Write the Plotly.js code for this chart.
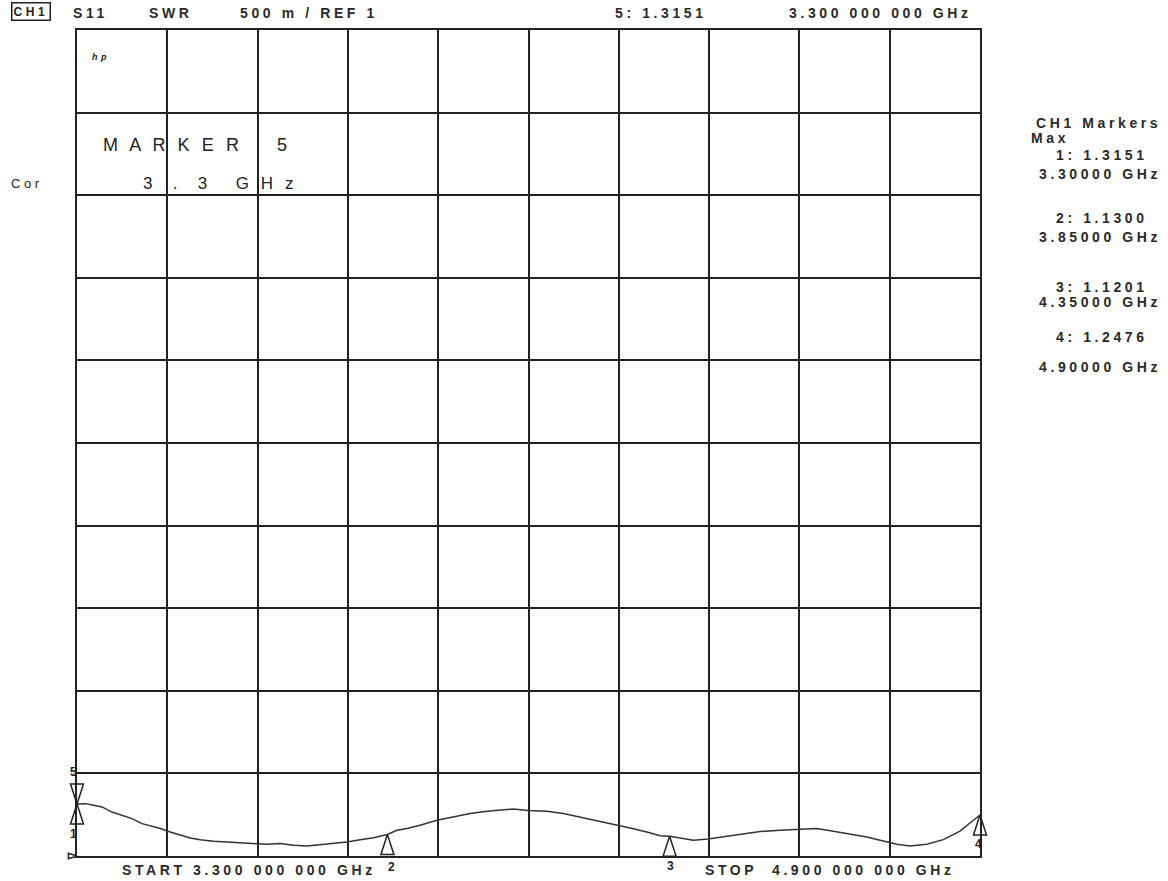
<!DOCTYPE html>
<html>
<head>
<meta charset="utf-8">
<script src="https://cdn.plot.ly/plotly-3.0.1.min.js"></script>
<style>
  html, body { margin: 0; padding: 0; background: #fff; }
  #chart { width: 1168px; height: 881px; }
  text.annotation-text { letter-spacing: 3.6px; }
</style>
</head>
<body>
<div id="chart"></div>
<script>
// ---------------- DATA ----------------
const xStart = 3.3;          // GHz
const xStop = 4.9;           // GHz
const refLevel = 1;          // SWR reference
const scaleDiv = 0.5;        // 500 m / div
const nDiv = 10;

const freqGHz = [
  3.300, 3.3147, 3.3294, 3.3443, 3.3620, 3.3797, 3.3974, 3.4151, 3.4328, 3.4475,
  3.4652, 3.4830, 3.5007, 3.5184, 3.5420, 3.5657, 3.5893, 3.6128, 3.6365, 3.6601,
  3.6837, 3.7074, 3.7310, 3.7545, 3.7782, 3.8018, 3.8254, 3.850, 3.8668, 3.8845,
  3.9081, 3.9377, 3.9671, 3.9967, 4.0262, 4.0556, 4.0734, 4.0994, 4.1325, 4.1619,
  4.1915, 4.2211, 4.2505, 4.2801, 4.3096, 4.3332, 4.350, 4.3686, 4.3922, 4.4182,
  4.4453, 4.4749, 4.5103, 4.5457, 4.5811, 4.6108, 4.6402, 4.6697, 4.6993, 4.7287,
  4.7525, 4.7760, 4.8056, 4.8350, 4.8645, 4.8822, 4.900
];
const swr = [
  1.3151, 1.317, 1.307, 1.297, 1.266, 1.246, 1.226, 1.196, 1.180, 1.166,
  1.145, 1.125, 1.109, 1.099, 1.089, 1.085, 1.079, 1.075, 1.071, 1.075,
  1.065, 1.061, 1.069, 1.075, 1.085, 1.099, 1.111, 1.130, 1.156, 1.166,
  1.186, 1.216, 1.236, 1.257, 1.271, 1.281, 1.285, 1.276, 1.271, 1.257,
  1.236, 1.216, 1.192, 1.170, 1.145, 1.123, 1.1201, 1.107, 1.095, 1.103,
  1.115, 1.131, 1.148, 1.156, 1.163, 1.166, 1.150, 1.131, 1.115, 1.091,
  1.071, 1.061, 1.071, 1.099, 1.151, 1.200, 1.2476
];

const mkrNum  = ['1', '2', '3', '4', '5'];
const mkrFreq = [3.30, 3.85, 4.35, 4.90, 3.30];
const mkrSwr  = [1.3151, 1.1300, 1.1201, 1.2476, 1.3151];
const activeMkr = 4; // index of marker 5

// ---------------- STYLE ----------------
const INK = '#222';
const FONT = 'Liberation Sans, Arial, sans-serif';
const mkrAngle = [0, 0, 0, 0, 180];
const labelShift = [[-4, -30], [4, -32], [0, -30], [-2, -29], [-4, 32]];

const M = { l: 77, r: 188, t: 30, b: 25 };
const W = 1168, H = 881;
const PW = W - M.l - M.r, PH = H - M.t - M.b;
function px(x) { return (x - M.l) / PW; }
function py(y) { return (H - M.b - y) / PH; }

function grp(f) { // 3.300000000 -> 3.300 000 000
  const s = f.toFixed(9);
  const [a, b] = s.split('.');
  return a + '.' + b.slice(0, 3) + ' ' + b.slice(3, 6) + ' ' + b.slice(6, 9);
}

const BOLD = { family: FONT, size: 14, color: '#2a2a2a', weight: 'bold' };
const ann = [];
function T(text, x, y, opts) {
  opts = opts || {};
  ann.push(Object.assign({
    xref: 'paper', yref: 'paper', x: px(x), y: py(y), text: text,
    showarrow: false, xanchor: 'left', yanchor: 'middle',
    font: BOLD
  }, opts));
}

// Marker labels (data anchored)
mkrNum.forEach((n, i) => {
  ann.push({
    xref: 'x', yref: 'y', x: mkrFreq[i], y: mkrSwr[i], text: n,
    showarrow: false, xanchor: 'center', yanchor: 'middle',
    xshift: labelShift[i][0] + 2, yshift: labelShift[i][1],
    font: { family: FONT, size: 12, color: INK, weight: 'bold' }
  });
});

// Header
T('CH1', 31, 12, { xanchor: 'center', font: { family: FONT, size: 12, color: INK, weight: 'bold' },
  bordercolor: INK, borderwidth: 1.5, borderpad: 1 });
T('S11', 71, 13);
T('SWR', 147, 13);
T((scaleDiv * 1000).toFixed(0) + ' m / REF ' + refLevel, 238, 13);
T(mkrNum[activeMkr] + ': ' + mkrSwr[activeMkr].toFixed(4), 613, 13);
T(grp(mkrFreq[activeMkr]) + ' GHz', 787, 13);

// Inside plot
T('hp', 90, 57, { font: { family: FONT, size: 9, color: INK, weight: 'bold', style: 'italic' } });
T('M A R K E R    ' + mkrNum[activeMkr], 101, 145, { font: { family: FONT, size: 18, color: INK } });
T('3  .  3   G H z', 141, 183, { font: { family: FONT, size: 17, color: INK } });
T('Cor', 9, 184, { font: { family: FONT, size: 13, color: INK } });

// Bottom
T('START ' + grp(xStart) + ' GHz', 120, 870);
T('STOP  ' + grp(xStop) + ' GHz', 703, 870);

// Right marker table
T('CH1 Markers', 1098, 123, { xanchor: 'center' });
T('Max', 1029, 138);
const rowY = [[155, 174], [218, 237], [287, 302], [337, 367]];
for (let i = 0; i < 4; i++) {
  T(mkrNum[i] + ': ' + mkrSwr[i].toFixed(4), 1102, rowY[i][0], { xanchor: 'center' });
  T(mkrFreq[i].toFixed(5) + ' GHz', 1100, rowY[i][1], { xanchor: 'center' });
}

const traces = [
  {
    x: freqGHz, y: swr, type: 'scatter', mode: 'lines',
    line: { color: '#333', width: 1.5 }, hoverinfo: 'skip'
  },
  {
    x: mkrFreq, y: mkrSwr, type: 'scatter', mode: 'markers', cliponaxis: false,
    marker: { symbol: 'arrow-open', size: 21, angle: mkrAngle,
              color: INK, line: { color: INK, width: 1.5 } },
    hoverinfo: 'skip'
  },
  {
    x: [xStart], y: [refLevel], type: 'scatter', mode: 'markers', cliponaxis: false,
    marker: { symbol: 'arrow-open', size: 9, angle: 90,
              color: INK, line: { color: INK, width: 1.5 } },
    hoverinfo: 'skip'
  }
];

const axisCommon = {
  showgrid: true, gridcolor: INK, gridwidth: 2,
  showline: true, mirror: true, linecolor: INK, linewidth: 2,
  zeroline: false, showticklabels: false, ticks: '', fixedrange: true
};

const layout = {
  width: W, height: H, margin: M,
  paper_bgcolor: '#fff', plot_bgcolor: '#fff',
  showlegend: false,
  xaxis: Object.assign({}, axisCommon, {
    range: [xStart, xStop], tick0: xStart, dtick: (xStop - xStart) / nDiv
  }),
  yaxis: Object.assign({}, axisCommon, {
    range: [refLevel, refLevel + nDiv * scaleDiv], tick0: refLevel, dtick: scaleDiv
  }),
  annotations: ann,
  font: { family: FONT, color: INK }
};

Plotly.newPlot('chart', traces, layout, { displayModeBar: false, staticPlot: true });
</script>
</body>
</html>
